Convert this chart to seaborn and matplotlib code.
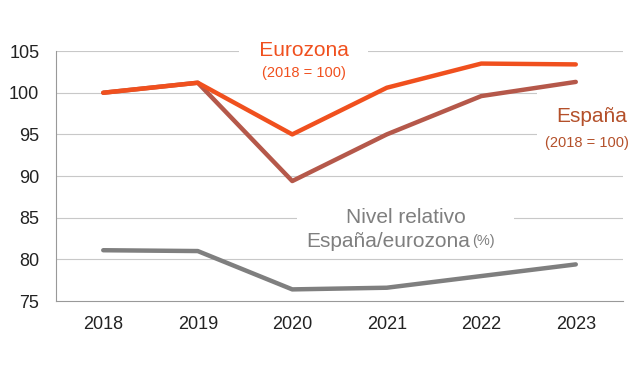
import numpy as np
import pandas as pd
import matplotlib
matplotlib.use("Agg")
import matplotlib.pyplot as plt
import seaborn as sns

# Data
years = ["2018", "2019", "2020", "2021", "2022", "2023"]
eurozona = [100.0, 101.2, 95.0, 100.6, 103.5, 103.4]
espana = [100.0, 101.2, 89.4, 95.0, 99.6, 101.3]
relativo = [81.1, 81.0, 76.4, 76.6, 78.0, 79.4]

c_euro = "#f0501e"
c_esp = "#b5584a"
c_rel = "#7f7f7f"
c_esp_txt = "#b4502a"

sns.set_style("white")
plt.rcParams["font.family"] = ["Liberation Sans", "DejaVu Sans"]

df = pd.DataFrame({"pos": np.arange(len(years)), "eurozona": eurozona,
                   "espana": espana, "relativo": relativo})

fig = plt.figure(figsize=(6.4, 3.84), dpi=100)
ax = fig.add_axes([0.0875, 0.216, 0.886, 0.651])

for y in [80, 85, 90, 95, 100, 105]:
    ax.axhline(y, color="#c8c8c8", lw=0.8, zorder=0)

sns.lineplot(data=df, x="pos", y="relativo", color=c_rel, lw=3.2, ax=ax, zorder=3)
sns.lineplot(data=df, x="pos", y="espana", color=c_esp, lw=3.2, ax=ax, zorder=3)
sns.lineplot(data=df, x="pos", y="eurozona", color=c_euro, lw=3.2, ax=ax, zorder=4)

ax.set_xlim(-0.5, len(years) - 0.5)
ax.set_ylim(75, 105)
ax.set_yticks([75, 80, 85, 90, 95, 100, 105])
ax.set_xticks(range(len(years)))
ax.set_xticklabels(years)
ax.set_xticks(np.arange(0.5, len(years) - 1, 1), minor=True)
ax.tick_params(axis="x", which="major", length=0, labelsize=13, pad=11, colors="#222222")
ax.tick_params(axis="x", which="minor", direction="in", length=5, color="#999999")
ax.tick_params(axis="y", length=0, labelsize=13, pad=12, colors="#222222")
ax.set_xlabel("")
ax.set_ylabel("")

for s in ["top", "right"]:
    ax.spines[s].set_visible(False)
for s in ["left", "bottom"]:
    ax.spines[s].set_color("#999999")
    ax.spines[s].set_linewidth(0.8)

box = dict(facecolor="white", edgecolor="none", pad=2)
ax.text(2.12, 105.1, "   Eurozona   ", color=c_euro, fontsize=15, ha="center", va="center",
        bbox=box, zorder=2)
ax.text(2.12, 102.4, "(2018 = 100)", color=c_euro, fontsize=10.5, ha="center", va="center",
        bbox=box, zorder=2)
ax.text(5.17, 97.1, "España", color=c_esp_txt, fontsize=15, ha="center", va="center",
        bbox=dict(facecolor="white", edgecolor="none", pad=14), zorder=2)
ax.text(5.12, 94.0, "(2018 = 100)", color=c_esp_txt, fontsize=10.5, ha="center", va="center",
        bbox=box, zorder=2)
ax.text(3.2, 85.0, "        Nivel relativo        ", color=c_rel, fontsize=15,
        ha="center", va="center", bbox=box, zorder=2)
ax.text(3.02, 82.2, "España/eurozona", color=c_rel, fontsize=15, ha="center", va="center",
        bbox=box, zorder=2)
ax.text(4.02, 82.2, "(%)", color=c_rel, fontsize=10.5, ha="center", va="center", zorder=2)

fig.savefig("out.png", dpi=100)
